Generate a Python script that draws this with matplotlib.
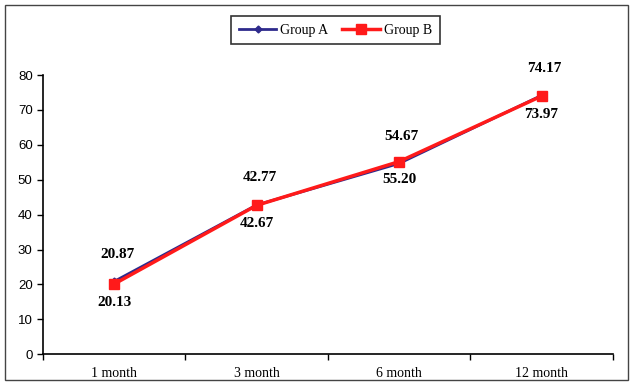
import matplotlib
matplotlib.use("Agg")
import matplotlib.pyplot as plt
from matplotlib.patches import Rectangle

categories = ["1 month", "3 month", "6 month", "12 month"]
group_a = [20.87, 42.77, 54.67, 74.17]
group_b = [20.13, 42.67, 55.20, 73.97]
yticks = [0, 10, 20, 30, 40, 50, 60, 70, 80]

fig = plt.figure(figsize=(6.33, 3.85), dpi=100)
fig.patches.append(Rectangle((0.008, 0.013), 0.984, 0.974, transform=fig.transFigure,
                             fill=False, edgecolor="#444444", linewidth=1.0))
ax = fig.add_axes([0.068, 0.08, 0.9, 0.725])

x = list(range(len(categories)))
ax.plot(x, group_a, color="#2e2a8c", linewidth=2, marker="D", markersize=3.5, label="Group A", zorder=3)
ax.plot(x, group_b, color="#ff1a1a", linewidth=2.5, marker="s", markersize=6.5, label="Group B", zorder=4)

for i in x:
    ax.annotate(f"{group_a[i]:.2f}", (i, group_a[i]), xytext=(2, 19.5), textcoords="offset points",
                ha="center", va="center", fontsize=11, fontweight="bold", family="Liberation Serif")
    ax.annotate(f"{group_b[i]:.2f}", (i, group_b[i]), xytext=(0, -13), textcoords="offset points",
                ha="center", va="center", fontsize=11, fontweight="bold", family="Liberation Serif")

ax.set_xlim(-0.5, len(categories) - 0.5)
ax.set_ylim(0, 80)
ax.set_yticks(yticks)
ax.set_yticklabels([str(v) for v in yticks], family="Liberation Sans", fontsize=9.5)
ax.set_xticks(x)
ax.set_xticklabels(categories, family="Liberation Serif", fontsize=10)
ax.tick_params(axis="x", length=0, pad=9)
ax.set_xticks([i + 0.5 for i in range(-1, len(categories))], minor=True)
ax.tick_params(axis="x", which="minor", length=4, width=1, direction="out")
ax.tick_params(axis="y", length=4, width=1, direction="out")
for s in ["top", "right"]:
    ax.spines[s].set_visible(False)
for s in ["left", "bottom"]:
    ax.spines[s].set_linewidth(1.2)

leg = fig.legend(loc="center", bbox_to_anchor=(0.53, 0.922), ncol=2, frameon=True, fancybox=False,
                 prop={"family": "Liberation Serif", "size": 10}, handlelength=2.7, handletextpad=0.3,
                 borderpad=0.55, borderaxespad=0, columnspacing=1.0, edgecolor="black")
leg.get_frame().set_linewidth(1.2)

fig.savefig("out.png", dpi=100)
